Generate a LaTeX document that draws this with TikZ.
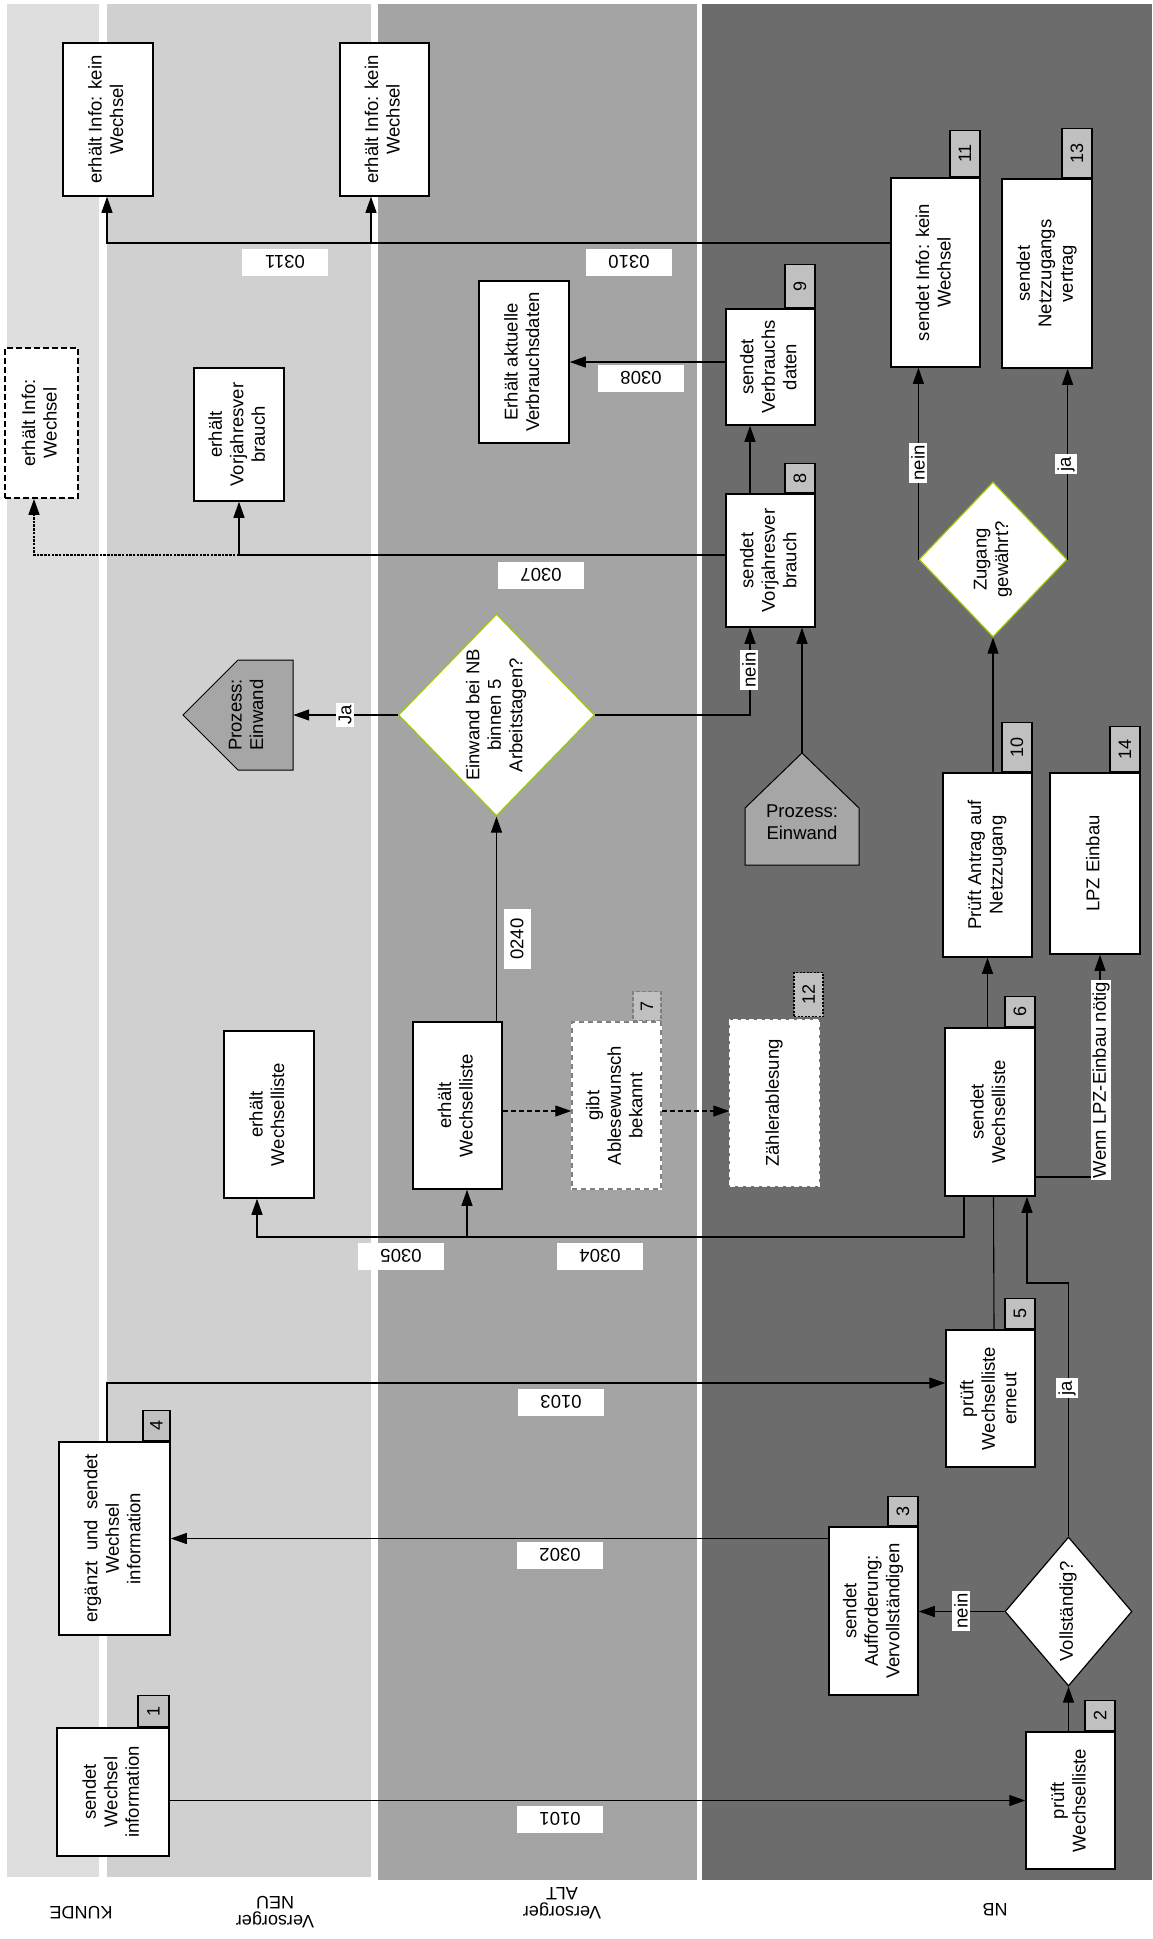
\documentclass[tikz,border=0pt]{standalone}
\usepackage{fontspec}
\setmainfont{Liberation Sans}
\usetikzlibrary{arrows.meta,shapes.geometric}
\newcommand\vtx[1]{\rotatebox{90}{\begin{tabular}{@{}c@{}}#1\end{tabular}}}
\definecolor{laneK}{HTML}{DEDEDE}
\definecolor{laneN}{HTML}{D0D0D0}
\definecolor{laneA}{HTML}{A4A4A4}
\definecolor{laneB}{HTML}{6C6C6C}
\definecolor{tagc}{HTML}{C0C0C0}
\definecolor{procc}{HTML}{A6A6A6}
\definecolor{decc}{HTML}{99CC00}
\begin{document}
\begin{tikzpicture}[x=1pt,y=-1pt,
  every node/.style={font=\fontsize{18.5}{21.5}\selectfont, inner sep=0pt},
  box/.style={draw, line width=1.5pt, fill=white, rectangle},
  tag/.style={draw, line width=1.5pt, fill=tagc, anchor=south east, minimum width=30pt, font=\fontsize{18}{20}\selectfont},
  flow/.style={fill=white, minimum width=86pt, minimum height=27pt, rotate=180},
  cond/.style={fill=white, inner sep=2.5pt, rotate=90},
  dec/.style={diamond, draw=decc, line width=1.2pt, fill=white},
  conn/.style={line width=1.1pt, -{Triangle[length=16pt,width=11pt]}},
  plain/.style={line width=1.1pt},
  lane/.style={rotate=180, align=center, font=\fontsize{18}{19}\selectfont},
]
\useasboundingbox (0,0) rectangle (1152,1939);
% lanes
\fill[laneK] (7,4) rectangle (99,1877);
\fill[laneN] (107,4) rectangle (371,1877);
\fill[laneA] (378,4) rectangle (697,1880);
\fill[laneB] (702,4) rectangle (1152,1880);
\node[lane] (lK) at (81,1913) {KUNDE};
\node[lane] (lN) at (275,1912) {Versorger\\NEU};
\node[lane] (lA) at (562,1903) {Versorger\\ALT};
\node[lane] (lB) at (995,1910) {NB};

% pentagons
\draw[line width=1pt, fill=procc] (183,715) -- (238,660) -- (293,660) -- (293,770) -- (238,770) -- cycle;
\node[minimum width=90pt, minimum height=110pt] (p1) at (248,715) {\vtx{Prozess:\\Einwand}};
\draw[line width=1pt, fill=procc] (802,753) -- (859,808) -- (859,865) -- (745,865) -- (745,808) -- cycle;
\node[minimum width=114pt, minimum height=138pt, align=center] (p2) at (802,822) {Prozess:\\Einwand};

% boxes
\node[box, minimum width=90pt, minimum height=153pt] (kA) at (108,119.5) {\vtx{erhält Info: kein\\Wechsel}};
\node[box, minimum width=89pt, minimum height=153pt] (nB) at (384.5,119.5) {\vtx{erhält Info: kein\\Wechsel}};
\node[box, minimum width=89pt, minimum height=189pt] (b11) at (935.5,272.5) {\vtx{sendet Info: kein\\Wechsel}};
\node[tag, minimum height=46pt] (t11) at (b11.north east) {\rotatebox{90}{11}};
\node[box, minimum width=90pt, minimum height=189pt] (b13) at (1047,273.5) {\vtx{sendet\\Netzzugangs\\vertrag}};
\node[tag, minimum height=49pt] (t13) at (b13.north east) {\rotatebox{90}{13}};
\node[box, minimum width=89pt, minimum height=116pt] (b9) at (770.5,367) {\vtx{sendet\\Verbrauchs\\daten}};
\node[tag, minimum height=43pt] (t9) at (b9.north east) {\rotatebox{90}{9}};
\node[box, minimum width=90pt, minimum height=162pt] (aV) at (524,362) {\vtx{Erhält aktuelle\\Verbrauchsdaten}};
\node[box, dash pattern=on 6pt off 3pt, line width=1.8pt, minimum width=73pt, minimum height=150pt] (kW) at (41.5,423) {\vtx{erhält Info:\\Wechsel}};
\node[box, minimum width=90pt, minimum height=133pt] (nV) at (239,434.5) {\vtx{erhält\\Vorjahresver\\brauch}};
\node[box, minimum width=89pt, minimum height=133pt] (b8) at (770.5,560.5) {\vtx{sendet\\Vorjahresver\\brauch}};
\node[tag, minimum height=29pt] (t8) at (b8.north east) {\rotatebox{90}{8}};
\node[dec, minimum width=148pt, minimum height=155pt] (dZ) at (993,559.5) {\vtx{Zugang\\gewährt?}};
\node[dec, minimum width=193pt, minimum height=202pt] (dE) at (496.5,715) {\vtx{Einwand bei NB\\binnen 5\\Arbeitstagen?}};
\node[box, minimum width=89pt, minimum height=184pt] (b10) at (987.5,865) {\vtx{Prüft Antrag auf\\Netzzugang}};
\node[tag, minimum height=49pt] (t10) at (b10.north east) {\rotatebox{90}{10}};
\node[box, minimum width=90pt, minimum height=181pt] (b14) at (1095,863.5) {\vtx{LPZ Einbau}};
\node[tag, minimum height=45pt] (t14) at (b14.north east) {\rotatebox{90}{14}};
\node[box, minimum width=90pt, minimum height=167pt] (nW) at (269,1114.5) {\vtx{erhält\\Wechselliste}};
\node[box, minimum width=89pt, minimum height=167pt] (aW) at (457.5,1105.5) {\vtx{erhält\\Wechselliste}};
\node[box, draw=white, postaction={draw=gray, line width=1.5pt, dash pattern=on 5pt off 4pt}, minimum width=89pt, minimum height=167pt] (b7) at (616.5,1105.5) {\vtx{gibt\\Ablesewunsch\\bekannt}};
\node[tag, draw=gray, dash pattern=on 4pt off 2pt, minimum width=28pt, minimum height=29pt] (t7) at (b7.north east) {\rotatebox{90}{7}};
\node[box, draw=white, dash pattern=on 5pt off 3pt, minimum width=89pt, minimum height=166pt] (b12) at (774.5,1103) {\vtx{Zählerablesung}};
\node[tag, dash pattern=on 2pt off 1.5pt, minimum width=29pt, minimum height=44pt] (t12) at ([xshift=4pt,yshift=2pt]b12.north east) {\rotatebox{90}{12}};
\node[box, minimum width=90pt, minimum height=168pt] (b6) at (990,1112) {\vtx{sendet\\Wechselliste}};
\node[tag, minimum height=30pt] (t6) at (b6.north east) {\rotatebox{90}{6}};
\node[box, minimum width=89pt, minimum height=137pt] (b5) at (990.5,1398.5) {\vtx{prüft\\Wechselliste\\erneut}};
\node[tag, minimum height=30pt] (t5) at (b5.north east) {\rotatebox{90}{5}};
\node[box, minimum width=111pt, minimum height=193pt] (b4) at (114.5,1538.5) {\vtx{ergänzt\ \ und\ \ sendet\\Wechsel\\information}};
\node[tag, minimum width=27pt, minimum height=30pt] (t4) at (b4.north east) {\rotatebox{90}{4}};
\node[box, minimum width=89pt, minimum height=168pt] (b3) at (873.5,1611) {\vtx{sendet\\Aufforderung:\\Vervollständigen}};
\node[tag, minimum height=29pt] (t3) at (b3.north east) {\rotatebox{90}{3}};
\node[diamond, draw, line width=1.2pt, fill=white, minimum width=127pt, minimum height=149pt] (dV) at (1068.5,1611.5) {\vtx{Vollständig?}};
\node[box, minimum width=112pt, minimum height=128pt] (b1) at (113,1792) {\vtx{sendet\\Wechsel\\information}};
\node[tag, minimum width=31pt, minimum height=31pt] (t1) at (b1.north east) {\rotatebox{90}{1}};
\node[box, minimum width=89pt, minimum height=137pt] (b2) at (1070.5,1800.5) {\vtx{prüft\\Wechselliste}};
\node[tag, minimum height=30pt] (t2) at (b2.north east) {\rotatebox{90}{2}};

% connectors
\draw[conn] (b1.east |- b2.west) -- (b2.west);
\node[flow] (l0101) at (560,1819) {0101};
\draw[conn] (b2.north -| dV.south) -- (dV.south);
\draw[conn] (dV.west) -- (b3.east |- dV.west);
\node[cond] (lnein1) at (961,1611) {nein};
\draw[conn] (b3.west |- b4.east) -- (b4.east);
\node[flow] (l0302) at (560,1555) {0302};
\draw[conn] ([xshift=-7.5pt]b4.north) |- ([yshift=15.5pt]b5.west);
\node[flow] (l0103) at (561,1402) {0103};
\coordinate (cja) at (1068.5,1283);
\draw[conn] (dV.north) -- (cja) -| ([xshift=37pt]b6.south);
\node[cond] (lja1) at (1067,1388) {ja};
\draw[plain] ([xshift=3.5pt]b5.north) -- ([xshift=3.5pt]b6.south);
\coordinate (c304) at (467,1237);
\draw[plain] ([xshift=-26pt]b6.south) |- (c304);
\draw[conn] (c304) -- (c304 |- aW.south);
\draw[conn] (c304) -| ([xshift=-12pt]nW.south);
\node[flow] (l0304) at (600,1256) {0304};
\node[flow] (l0305) at (401,1256) {0305};
\draw[conn] (b6.north -| b10.south) -- (b10.south);
\draw[conn] ([yshift=-65pt]b6.east) -| ([xshift=5pt]b14.south);
\node[cond, inner sep=1.5pt] (llpz) at (1101,1080) {Wenn LPZ-Einbau nötig};
\draw[conn] (aW.north -| dE.south) -- (dE.south);
\node[flow, rotate=-90, minimum width=60pt] (l0240) at (517,939) {0240};
\draw[conn, dash pattern=on 5pt off 3pt] ([yshift=-5.5pt]aW.east) -- ([yshift=-5.5pt]b7.west);
\draw[conn, dash pattern=on 5pt off 3pt] ([yshift=-5.5pt]b7.east) -- ([yshift=-8pt]b12.west);
\draw[conn] (dE.west) -- (p1.east);
\node[cond] (lJa) at (345,715) {Ja};
\draw[conn] (dE.east) -| ([xshift=-20.5pt]b8.south);
\node[cond] (lnein2) at (749,670) {nein};
\draw[conn] (p2.north) -- (p2.north |- b8.south);
\draw[conn] (b10.north -| dZ.south) -- (dZ.south);
\draw[conn] (dZ.west) -- (dZ.west |- b11.south);
\node[cond] (lnein3) at (918,463) {nein};
\draw[conn] (dZ.east) -- (dZ.east |- b13.south);
\node[cond] (lja2) at (1066,464) {ja};
\draw[conn] ([xshift=-20.5pt]b8.north) -- ([xshift=-20.5pt]b9.south);
\draw[conn] (b9.west |- aV.east) -- (aV.east);
\node[flow] (l0308) at (641,378) {0308};
\coordinate (c307) at (239,555);
\draw[plain] ([yshift=5.5pt]b8.west) -- (c307);
\draw[conn] (c307) -- (nV.south);
\draw[conn, line width=1.6pt, dash pattern=on 2.5pt off 1.2pt] (c307) -| ([xshift=-7.5pt]kW.south);
\node[flow] (l0307) at (541,575) {0307};
\coordinate (c310) at (371,243);
\draw[plain] ([yshift=29.5pt]b11.west) -- (c310);
\draw[conn] (c310) -- (c310 |- nB.south);
\draw[conn] (c310) -| ([xshift=-1pt]kA.south);
\node[flow] (l0310) at (629,262) {0310};
\node[flow] (l0311) at (285,262) {0311};
\end{tikzpicture}
\end{document}
